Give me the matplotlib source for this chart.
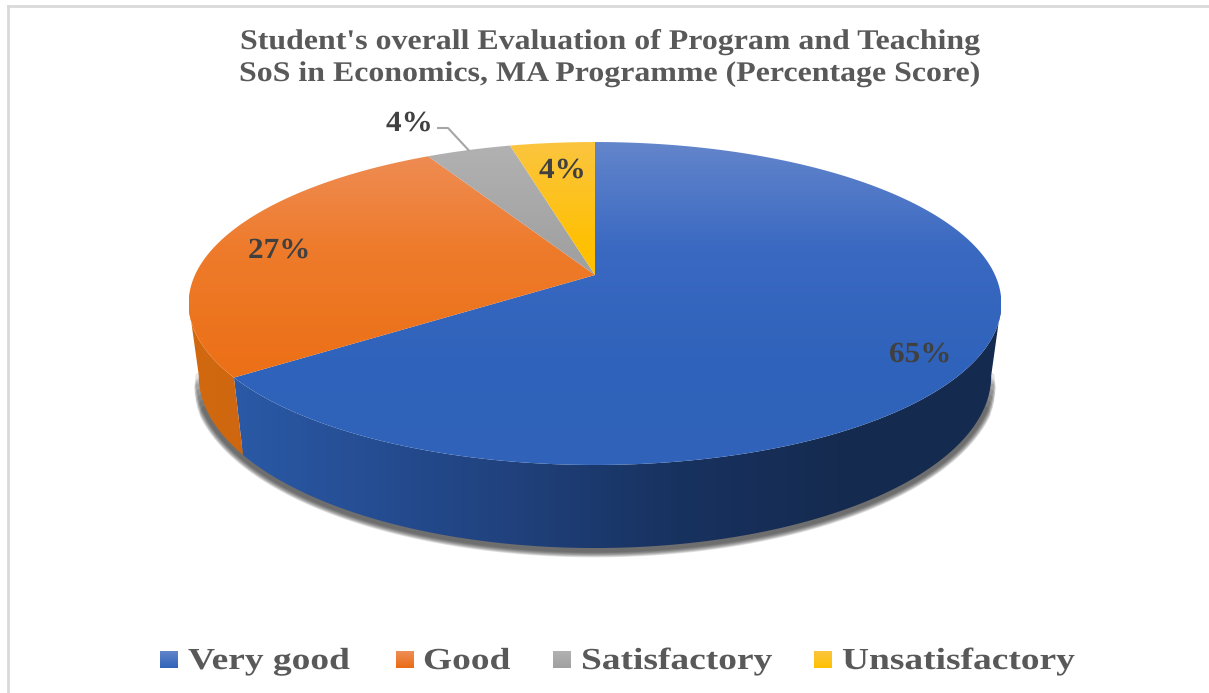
import numpy as np
import matplotlib
matplotlib.use("Agg")
import matplotlib.pyplot as plt
import matplotlib.patheffects as pe
from matplotlib.colors import LinearSegmentedColormap
from matplotlib.path import Path
from matplotlib.transforms import Affine2D

categories = ['Very good', 'Good', 'Satisfactory', 'Unsatisfactory']
values = [65, 27, 4, 4]

title_lines = ["Student's overall Evaluation of Program and Teaching",
               "SoS in Economics, MA Programme (Percentage Score)"]

# gradients for the top face (top of pie -> lower part)
top_colors = [['#6385cb', '#3a69c2', '#3063bb', '#2f62b8'],
              ['#ef8e58', '#ee7b2b', '#ec7119', '#ea6c14'],
              ['#b2b2b2', '#a2a2a2', '#a0a0a0', '#a0a0a0'],
              ['#fbc53f', '#ffc000', '#ffc000', '#ffc000']]
# gradients for the side wall, left -> right
side_colors = [['#2c5dab', '#264f96', '#20417c', '#183260', '#152b50', '#142a4f'],
               ['#d2690f', '#c5620f', '#d06810', '#d06810', '#d06810', '#d06810'],
               ['#777777'] * 6,
               ['#bf9000'] * 6]

legend_swatch_x = [160, 396, 553, 814]
legend_text_x = [188, 423, 581, 842]
label_pos = [(889, 362), (248, 258), (386, 131), (539, 178)]

W, H = 1209, 693
CX = 595
PERSP = 0.1765
T_RIGHT, T_LEFT = np.radians(100), np.radians(260)  # where the wall outline leaves the top ellipse


class Stretch(pe.AbstractPathEffect):
    # the source chart was pasted wider than it was drawn, so text is wide too
    def __init__(self, sx):
        super().__init__()
        self.sx = sx

    def draw_path(self, renderer, gc, tpath, affine, rgbFace=None):
        renderer.draw_path(gc, tpath, Affine2D().scale(self.sx, 1) + affine, rgbFace)


def project(t, radius, slope, apex):
    # circle angle (clockwise from 12 o'clock) to screen, with perspective
    v = np.cos(t)
    d = PERSP * v + 1
    return CX + radius * np.sin(t) / d, (slope * v + apex) / d


def top_xy(t):
    return project(t, 400, -107.9, 275)


def bottom_xy(t):
    return project(t, 390, -105.8, 345.5)


def gradient_fill(ax, path, colors, extent, horizontal=False, zorder=2):
    cmap = LinearSegmentedColormap.from_list('g', colors)
    g = np.linspace(0, 1, 256)
    g = g.reshape(1, -1) if horizontal else g.reshape(-1, 1)
    im = ax.imshow(g, cmap=cmap, extent=extent, aspect='auto', zorder=zorder,
                   interpolation='bilinear', vmin=0, vmax=1)
    im.set_clip_path(path, transform=ax.transData)


fig = plt.figure(figsize=(W / 100, H / 100), dpi=100, facecolor='white')
ax = fig.add_axes([0, 0, 1, 1])
ax.axis('off')

plt.rcParams['font.family'] = ['Liberation Serif', 'DejaVu Serif']

# frame of the pasted chart
ax.plot([8, 8], [H, 6], color='#d9d9d9', lw=2, zorder=1)
ax.plot([8, W], [6, 6], color='#d9d9d9', lw=2, zorder=1)

edges = np.cumsum([0] + values) / np.sum(values) * 2 * np.pi

# soft shadow under the wall, wide layers stop earlier so the ends fade out
for lw, margin in zip([12, 11, 10, 9, 8, 7, 6, 5], [12, 10, 8, 6, 4, 3, 2, 0]):
    ts = np.linspace(T_RIGHT + np.radians(margin), T_LEFT - np.radians(margin), 300)
    sx, sy = bottom_xy(ts)
    ax.plot(sx, sy + 1, color='#2a2a2a', lw=lw, alpha=0.13, zorder=1.5,
            solid_capstyle='round')

# side wall first, top face goes over it; only the part facing us
for i in range(len(values)):
    start, end = max(edges[i], T_RIGHT), min(edges[i + 1], T_LEFT)
    if end <= start:
        continue
    t = np.linspace(start, end, 300)
    x1, y1 = top_xy(t)
    x2, y2 = bottom_xy(t)
    wall = Path(np.column_stack([np.r_[x1, x2[::-1], x1[0]], np.r_[y1, y2[::-1], y1[0]]]), closed=True)
    gradient_fill(ax, wall, side_colors[i], (189, 1001, 550, 140), horizontal=True, zorder=2)

for i in range(len(values)):
    t = np.linspace(edges[i], edges[i + 1], 300)
    x, y = top_xy(t)
    wedge = Path(np.column_stack([np.r_[CX, x, CX], np.r_[275, y, 275]]), closed=True)
    gradient_fill(ax, wedge, top_colors[i], (189, 1001, 465, 142), zorder=3)

# data labels
for i, v in enumerate(values):
    lx, ly = label_pos[i]
    ax.text(lx, ly, f'{v}%', fontsize=21, fontweight='bold', color='#404040',
            ha='left', va='baseline', zorder=5, path_effects=[Stretch(1.07)])

# leader line for the small grey slice
mid = (edges[2] + edges[3]) / 2
ex, ey = top_xy(mid)
ax.plot([438, 448, ex], [128, 128, ey], color='#a6a6a6', lw=1.5, zorder=4)

# title
ax.text(240, 49, title_lines[0], fontsize=20.5, fontweight='bold', color='#595959',
        ha='left', va='baseline', zorder=5, path_effects=[Stretch(1.12)])
ax.text(239, 81, title_lines[1], fontsize=20.5, fontweight='bold', color='#595959',
        ha='left', va='baseline', zorder=5, path_effects=[Stretch(1.12)])

# legend
for i, name in enumerate(categories):
    x0 = legend_swatch_x[i]
    box = Path([(x0, 651), (x0 + 18, 651), (x0 + 18, 668), (x0, 668), (x0, 651)], closed=True)
    gradient_fill(ax, box, [top_colors[i][0], top_colors[i][-1]],
                  (x0, x0 + 18, 668, 651), zorder=3)
    ax.text(legend_text_x[i], 669, name, fontsize=22, fontweight='bold', color='#595959',
            ha='left', va='baseline', zorder=5, path_effects=[Stretch(1.225)])

ax.set_xlim(0, W)
ax.set_ylim(H, 0)

fig.savefig('out.png', dpi=100)
